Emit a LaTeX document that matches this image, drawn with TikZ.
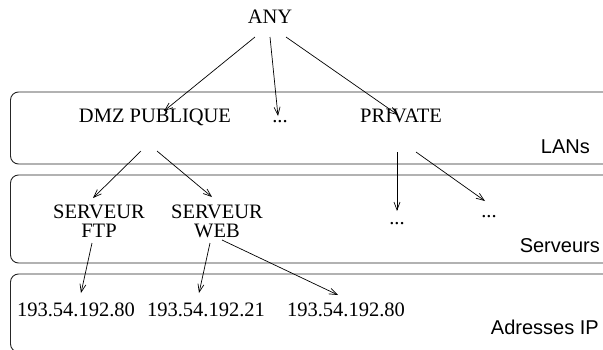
\documentclass[tikz,border=0pt]{standalone}
\usepackage{fontspec}
\setmainfont{Liberation Serif}
\newfontfamily\layerfont{Liberation Sans}
\usetikzlibrary{arrows.meta}
\tikzset{
  txt/.style={inner sep=0pt,anchor=base,font=\fontsize{20.5}{19}\selectfont},
  layer/.style={inner sep=0pt,anchor=base east,font=\layerfont\fontsize{20}{22}\selectfont},
  band/.style={draw=black!85,line width=0.9pt,rounded corners=8pt},
  arr/.style={-{Straight Barb[length=8pt,width=6pt]},line width=0.7pt}
}
\begin{document}
\begin{tikzpicture}[x=1pt,y=-1pt]
\useasboundingbox (0,0) rectangle (603,349);
\clip (0,0) rectangle (603,349);
\draw[band] (10.5,92) rectangle (640,164);
\draw[band] (10.5,175) rectangle (640,263);
\draw[band] (10.5,274) rectangle (640,352);

\node[txt] (Any) at (270,23) {ANY};
\node[txt] (Dmz) at (155,122) {DMZ PUBLIQUE};
\node[txt] (LanDots) at (280,122) {...};
\node[txt] (Private) at (401,122) {PRIVATE};
\node[layer] (Lans) at (590,153) {LANs};

\node[txt,anchor=center,align=center] (Ftp) at (99,221.5) {SERVEUR\\FTP};
\node[txt,anchor=center,align=center] (Web) at (217,221.5) {SERVEUR\\WEB};
\node[txt] (SrvDotsA) at (397,224) {...};
\node[txt] (SrvDotsB) at (489,217) {...};
\node[layer] (Serveurs) at (600,252) {Serveurs};

\node[txt] (IpFtp) at (76,316) {193.54.192.80};
\node[txt] (IpWebA) at (206,316) {193.54.192.21};
\node[txt] (IpWebB) at (346,316) {193.54.192.80};
\node[layer] (Adresses) at (599,334) {Adresses IP};

\draw[arr] ([shift={(-15,14)}]Any.base) -- ([shift={(9,-11)}]Dmz.base);
\draw[arr] ([shift={(0,14)}]Any.base) -- ([shift={(-2,-6)}]LanDots.base);
\draw[arr] ([shift={(16,14)}]Any.base) -- ([shift={(-3,-7)}]Private.base);
\draw[arr] ([shift={(-14,29)}]Dmz.base) -- ([shift={(-6,-23.5)}]Ftp.center);
\draw[arr] ([shift={(2,29)}]Dmz.base) -- ([shift={(-5,-24.5)}]Web.center);
\draw[arr] ([shift={(-4,30)}]Private.base) -- ([shift={(0,-13)}]SrvDotsA.base);
\draw[arr] ([shift={(15,30)}]Private.base) -- ([shift={(-4,-16)}]SrvDotsB.base);
\draw[arr] ([shift={(-7,21.5)}]Ftp.center) -- ([shift={(5,-23)}]IpFtp.base);
\draw[arr] ([shift={(-7,21.5)}]Web.center) -- ([shift={(-7,-23)}]IpWebA.base);
\draw[arr] ([shift={(5,18.5)}]Web.center) -- ([shift={(-8,-21)}]IpWebB.base);
\end{tikzpicture}
\end{document}
